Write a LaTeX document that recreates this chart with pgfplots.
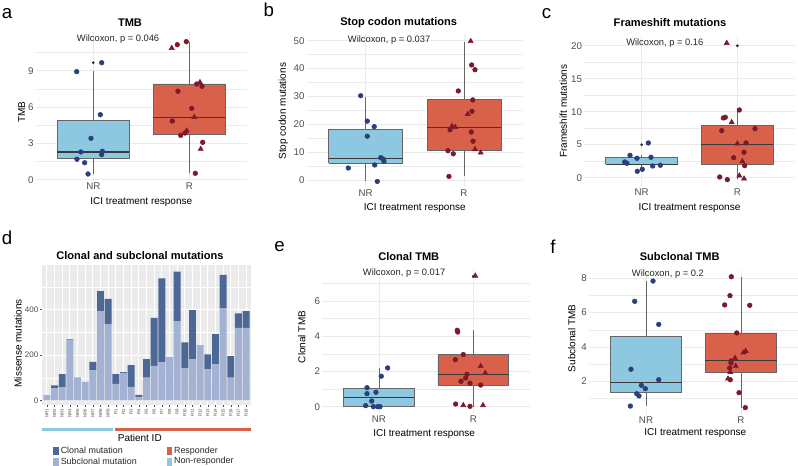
\documentclass[border=0pt]{standalone}
\usepackage{fontspec}
\setmainfont{Liberation Sans}
\usepackage{pgfplots}
\pgfplotsset{compat=1.18}

\definecolor{nrfill}{HTML}{8EC7E0}
\definecolor{rfill}{HTML}{D9604B}
\definecolor{nrpt}{HTML}{2B3F7C}
\definecolor{rpt}{HTML}{7B1A2A}
\definecolor{boxline}{HTML}{666666}
\definecolor{medc}{HTML}{3A3A3A}
\definecolor{gridc}{HTML}{EBEBEB}
\definecolor{tickc}{HTML}{4D4D4D}
\definecolor{clonal}{HTML}{4E6896}
\definecolor{subclonal}{HTML}{A3B2D2}
\definecolor{panelbg}{HTML}{EBEBEB}

\pgfplotsset{
 boxpanel/.style={
  scale only axis, anchor=south west,
  xmin=0.4, xmax=2.6, xtick={1,2}, xticklabels={NR,R},
  axis line style={draw=none}, tick style={draw=none},
  major tick length=0pt, minor tick length=0pt,
  xmajorgrids, ymajorgrids, yminorgrids,
  major grid style={draw=gridc, line width=0.55pt},
  minor grid style={draw=gridc, line width=0.3pt},
  tick label style={font=\fontsize{7.3}{8}\selectfont, text=tickc},
  xticklabel style={inner sep=1.5pt},
  yticklabel style={inner sep=1.5pt},
  /pgf/number format/assume math mode=true,
  clip=false,
 },
 nrdots/.style={only marks, mark=*, mark size=1.75pt, draw=nrpt, fill=nrpt},
 rdots/.style={only marks, mark=*, mark size=1.75pt, draw=rpt, fill=rpt},
 rtri/.style={only marks, mark=triangle*, mark size=2.2pt, draw=rpt, fill=rpt},
 outl/.style={only marks, mark=*, mark size=0.8pt, draw=black!85, fill=black!85},
}
% box: #1 centre, #2 left, #3 right, #4 lower whisker, #5 lower quartile, #6 median, #7 upper quartile, #8 upper whisker, #9 fill
\newcommand{\bbox}[9]{%
 \addplot[mark=none, draw=boxline, line width=0.55pt] coordinates {(#1,#4) (#1,#5)};
 \addplot[mark=none, draw=boxline, line width=0.55pt] coordinates {(#1,#7) (#1,#8)};
 \addplot[mark=none, fill=#9, draw=boxline, line width=0.5pt] coordinates {(#2,#5) (#3,#5) (#3,#7) (#2,#7) (#2,#5)};
 \addplot[mark=none, draw=medc, line width=1.1pt] coordinates {(#2,#6) (#3,#6)};
}

\begin{document}
\begin{tikzpicture}
\path[use as bounding box] (0pt,0pt) rectangle (598.5pt,-349.5pt);

% ---------------- a: TMB
\begin{axis}[boxpanel, at={({35.7*0.75pt},{-180.9*0.75pt})}, width=158.4pt, height=111.6pt,
  ymin=-0.1, ymax=12.2, ytick={0,3,6,9}, minor ytick={1.5,4.5,7.5,10.5}]
\bbox{1}{0.625}{1.375}{0.47}{1.77}{2.29}{4.91}{8.96}{nrfill}
\bbox{2}{1.625}{2.375}{0.53}{3.78}{5.12}{7.91}{11.41}{rfill}
\addplot[outl] coordinates {(1,9.67)};
\addplot[nrdots] coordinates {(0.827,8.93) (1.0875,9.67) (1.073,5.37) (0.976,3.42) (0.869,2.29) (1.094,2.35) (1.0875,2.07) (0.830,1.69) (0.910,1.40) (0.945,0.47)};
\addplot[rdots] coordinates {(1.875,11.16) (1.969,11.41) (1.882,7.31) (2.077,7.91) (2.132,7.72) (2.025,5.90) (1.823,4.85) (1.955,3.86) (1.910,3.67) (2.140,3.09) (2.0625,0.53)};
\addplot[rtri] coordinates {(1.817,10.88) (2.111,8.05) (2.052,5.16) (1.973,4.05) (2.119,2.54)};
\end{axis}

% ---------------- b: Stop codon
\begin{axis}[boxpanel, at={({306.7*0.75pt},{-187.3*0.75pt})}, width=162.2pt, height=115.2pt,
  ymin=-2.5, ymax=52.5, ytick={0,10,20,30,40,50}, minor ytick={5,15,25,35,45}]
\bbox{1}{0.625}{1.375}{-0.3}{6.1}{7.75}{18.1}{30.0}{nrfill}
\bbox{2}{1.625}{2.375}{1.4}{10.7}{19.0}{29.0}{49.5}{rfill}
\addplot[nrdots] coordinates {(0.949,30.3) (1.016,21.2) (1.087,19.2) (1.016,15.8) (1.153,8.1) (1.179,7.6) (1.186,6.8) (1.092,5.5) (0.823,4.4) (1.118,-0.4)};
\addplot[rdots] coordinates {(2.078,41.3) (2.112,39.6) (1.942,32.0) (2.089,28.8) (2.081,24.7) (1.858,18.1) (2.074,17.3) (2.092,14.0) (1.837,10.6) (1.891,9.5) (1.847,1.4)};
\addplot[rtri] coordinates {(2.068,49.8) (2.038,23.7) (1.878,19.4) (1.911,19.0) (2.112,11.1) (2.170,9.9)};
\end{axis}

% ---------------- c: Frameshift
\begin{axis}[boxpanel, at={({584.3*0.75pt},{-186.9*0.75pt})}, width=157.8pt, height=112.8pt,
  ymin=-1.4, ymax=21.4, ytick={0,5,10,15,20}, minor ytick={2.5,7.5,12.5,17.5}]
\bbox{1}{0.625}{1.375}{0.97}{2.03}{2.03}{3.09}{3.39}{nrfill}
\bbox{2}{1.625}{2.375}{-0.2}{2.08}{5.06}{7.98}{10.26}{rfill}
\addplot[outl] coordinates {(1,5.0) (2,20.0)};
\addplot[nrdots] coordinates {(1.069,5.26) (0.878,3.39) (0.951,2.94) (1.097,3.09) (0.822,2.38) (0.846,2.18) (1.115,1.77) (1.195,1.88) (1.006,1.27) (0.954,0.97)};
\addplot[rdots] coordinates {(2.021,10.26) (1.854,9.05) (1.874,9.15) (2.185,7.42) (1.837,7.12) (2.091,5.26) (2.070,3.85) (1.962,3.03) (2.077,1.82) (1.816,0.1) (1.895,-0.3)};
\addplot[rtri] coordinates {(1.889,20.4) (1.941,8.39) (2.0,5.15) (2.052,2.48) (2.021,0.3) (2.070,-0.15)};
\end{axis}

% ---------------- d: Clonal and subclonal
\begin{axis}[scale only axis, anchor=south west, at={({42.3*0.75pt},{-405*0.75pt})}, width=156.3pt, height=105.3pt,
  xmin=0.4, xmax=27.6, ymin=-20, ymax=598.5,
  ybar stacked, bar width=0.9,
  axis background/.style={fill=panelbg},
  axis line style={draw=none},
  xtick={1,...,27},
  xticklabels={NR1,NR2,NR3,NR4,NR5,NR6,NR7,NR8,NR9,R1,R2,R3,R4,R5,R6,R7,R8,R9,R10,R11,R12,R13,R14,R15,R16,R17,R18},
  xticklabel style={rotate=90, anchor=east, font=\fontsize{3.3}{3.6}\selectfont, text=tickc, inner sep=0.8pt},
  ytick={0,200,400}, minor ytick={100,300,500},
  yticklabel style={font=\fontsize{6}{7}\selectfont, text=tickc, inner sep=1pt},
  /pgf/number format/assume math mode=true,
  xmajorgrids, ymajorgrids, yminorgrids,
  major grid style={draw=white, line width=0.6pt},
  minor grid style={draw=white, line width=0.3pt},
  tick style={draw=tickc, line width=0.4pt},
  major tick length=1.8pt, minor tick length=0pt, tick align=outside,
  xtick pos=bottom, ytick pos=left,
]
\addplot[fill=subclonal, draw=none] coordinates {(1,23) (2,53) (3,59) (4,266) (5,102) (6,82) (7,132) (8,394) (9,336) (10,73) (11,122) (12,60) (13,16) (14,101) (15,152) (16,168) (17,191) (18,350) (19,141) (20,182) (21,244) (22,137) (23,160) (24,407) (25,101) (26,320) (27,320)};
\addplot[fill=clonal, draw=none] coordinates {(1,0) (2,14) (3,57) (4,3) (5,0) (6,0) (7,38) (8,88) (9,111) (10,43) (11,3) (12,96) (13,9) (14,81) (15,212) (16,370) (17,0) (18,217) (19,115) (20,216) (21,0) (22,66) (23,132) (24,146) (25,94) (26,64) (27,74)};
\end{axis}

% ---------------- e: Clonal TMB
\begin{axis}[boxpanel, at={({322.4*0.75pt},{-413.2*0.75pt})}, width=155.6pt, height=107.9pt,
  ymin=-0.37, ymax=7.8, ytick={0,2,4,6}, minor ytick={1,3,5,7}]
\bbox{1}{0.625}{1.375}{0}{0}{0.53}{1.02}{2.2}{nrfill}
\bbox{2}{1.625}{2.375}{0}{1.21}{1.84}{2.96}{4.34}{rfill}
\addplot[outl] coordinates {(2,7.4)};
\addplot[nrdots] coordinates {(1.092,2.2) (1.024,1.73) (0.873,1.08) (0.873,0.74) (0.968,0.82) (0.923,0.32) (0.859,0.06) (0.940,0) (0.986,0) (1.011,0)};
\addplot[rdots] coordinates {(1.830,4.34) (1.835,4.24) (1.894,2.96) (1.809,2.67) (1.933,1.84) (1.919,1.63) (1.870,1.44) (1.965,1.33) (2.078,1.23) (1.813,0.15) (1.965,0.02)};
\addplot[rtri] coordinates {(2.021,7.43) (2.078,2.30) (2.127,1.91) (1.894,0.08) (2.103,0.08)};
\end{axis}

% ---------------- f: Subclonal TMB
\begin{axis}[boxpanel, at={({589*0.75pt},{-414.5*0.75pt})}, width=156.75pt, height=108.75pt,
  ymin=0.07, ymax=8.5, ytick={2,4,6,8}, minor ytick={1,3,5,7}]
\bbox{1}{0.625}{1.375}{0.56}{1.36}{1.92}{4.63}{7.83}{nrfill}
\bbox{2}{1.625}{2.375}{0.47}{2.5}{3.22}{4.81}{8.08}{rfill}
\addplot[nrdots] coordinates {(1.074,7.83) (0.881,6.65) (1.134,5.31) (0.842,2.70) (1.134,2.09) (0.951,1.77) (0.993,1.57) (0.902,1.28) (0.926,1.15) (0.835,0.56)};
\addplot[rdots] coordinates {(1.898,8.08) (1.884,6.98) (1.828,6.44) (2.092,6.42) (1.955,4.81) (1.895,3.18) (1.895,3.06) (1.881,2.77) (1.887,2.09) (1.979,1.34) (2.045,0.47)};
\addplot[rtri] coordinates {(2.049,3.76) (2.024,3.66) (1.937,3.35) (1.944,2.89) (1.887,2.54) (1.863,2.15)};
\end{axis}

% ---------------- annotations
\begin{scope}[x=0.75pt, y=-0.75pt]
\tikzset{lett/.style={font=\fontsize{14}{16}\selectfont, anchor=base west, inner sep=0pt},
 ttl/.style={font=\fontsize{8.3}{10}\selectfont\bfseries},
 wil/.style={font=\fontsize{7}{8}\selectfont, anchor=west, inner sep=0pt, text=black!85},
 axt/.style={font=\fontsize{7.5}{9}\selectfont},
 leg/.style={font=\fontsize{6.7}{8}\selectfont, anchor=west, inner sep=0pt, text=black!85}}
\node[lett] at (1.7,18.3) {a};
\node[lett] at (263.3,16.7) {b};
\node[lett] at (541.7,18.3) {c};
\node[lett] at (1.7,244.3) {d};
\node[lett] at (274,252) {e};
\node[lett] at (550,253.3) {f};
\node[ttl] at (130,22.7) {TMB};
\node[ttl] at (398.7,22.7) {Stop codon mutations};
\node[ttl] at (670,22.7) {Frameshift mutations};
\node[ttl] at (140,256) {Clonal and subclonal mutations};
\node[ttl] at (408.8,256.7) {Clonal TMB};
\node[ttl] at (679.7,256.7) {Subclonal TMB};
\node[wil] at (76.7,39.3) {Wilcoxon, p = 0.046};
\node[wil] at (347.7,40) {Wilcoxon, p = 0.037};
\node[wil] at (626,43.3) {Wilcoxon, p = 0.16};
\node[wil] at (362.7,273.3) {Wilcoxon, p = 0.017};
\node[wil] at (631.7,274.3) {Wilcoxon, p = 0.2};
\node[axt] at (141.3,202) {ICI treatment response};
\node[axt] at (414.8,208.4) {ICI treatment response};
\node[axt] at (689.5,208.4) {ICI treatment response};
\node[axt] at (424.2,434) {ICI treatment response};
\node[axt] at (695.3,433.3) {ICI treatment response};
\node[axt] at (139.8,438.3) {Patient ID};
\node[axt, rotate=90] at (21.7,112) {TMB};
\node[axt, rotate=90] at (283.3,111.3) {Stop codon mutations};
\node[axt, rotate=90] at (563.3,111.3) {Frameshift mutations};
\node[axt, rotate=90] at (18,343.3) {Missense mutations};
\node[axt, rotate=90] at (301.7,337) {Clonal TMB};
\node[axt, rotate=90] at (571.7,338.3) {Subclonal TMB};
\fill[nrfill] (41.7,427.5) rectangle (113.3,430.5);
\fill[rfill] (115,427.5) rectangle (250.7,430.5);
\fill[clonal] (53.3,446.5) rectangle (58.8,455);
\node[leg] at (60.5,450.7) {Clonal mutation};
\fill[subclonal] (53.3,457.5) rectangle (58.8,466);
\node[leg] at (60.5,461.5) {Subclonal mutation};
\fill[rfill] (166.7,446.5) rectangle (172.2,455);
\node[leg] at (173.8,450.7) {Responder};
\fill[nrfill] (166.7,457.5) rectangle (172.2,466);
\node[leg] at (173.8,461.5) {Non-responder};
\end{scope}
\end{tikzpicture}
\end{document}
